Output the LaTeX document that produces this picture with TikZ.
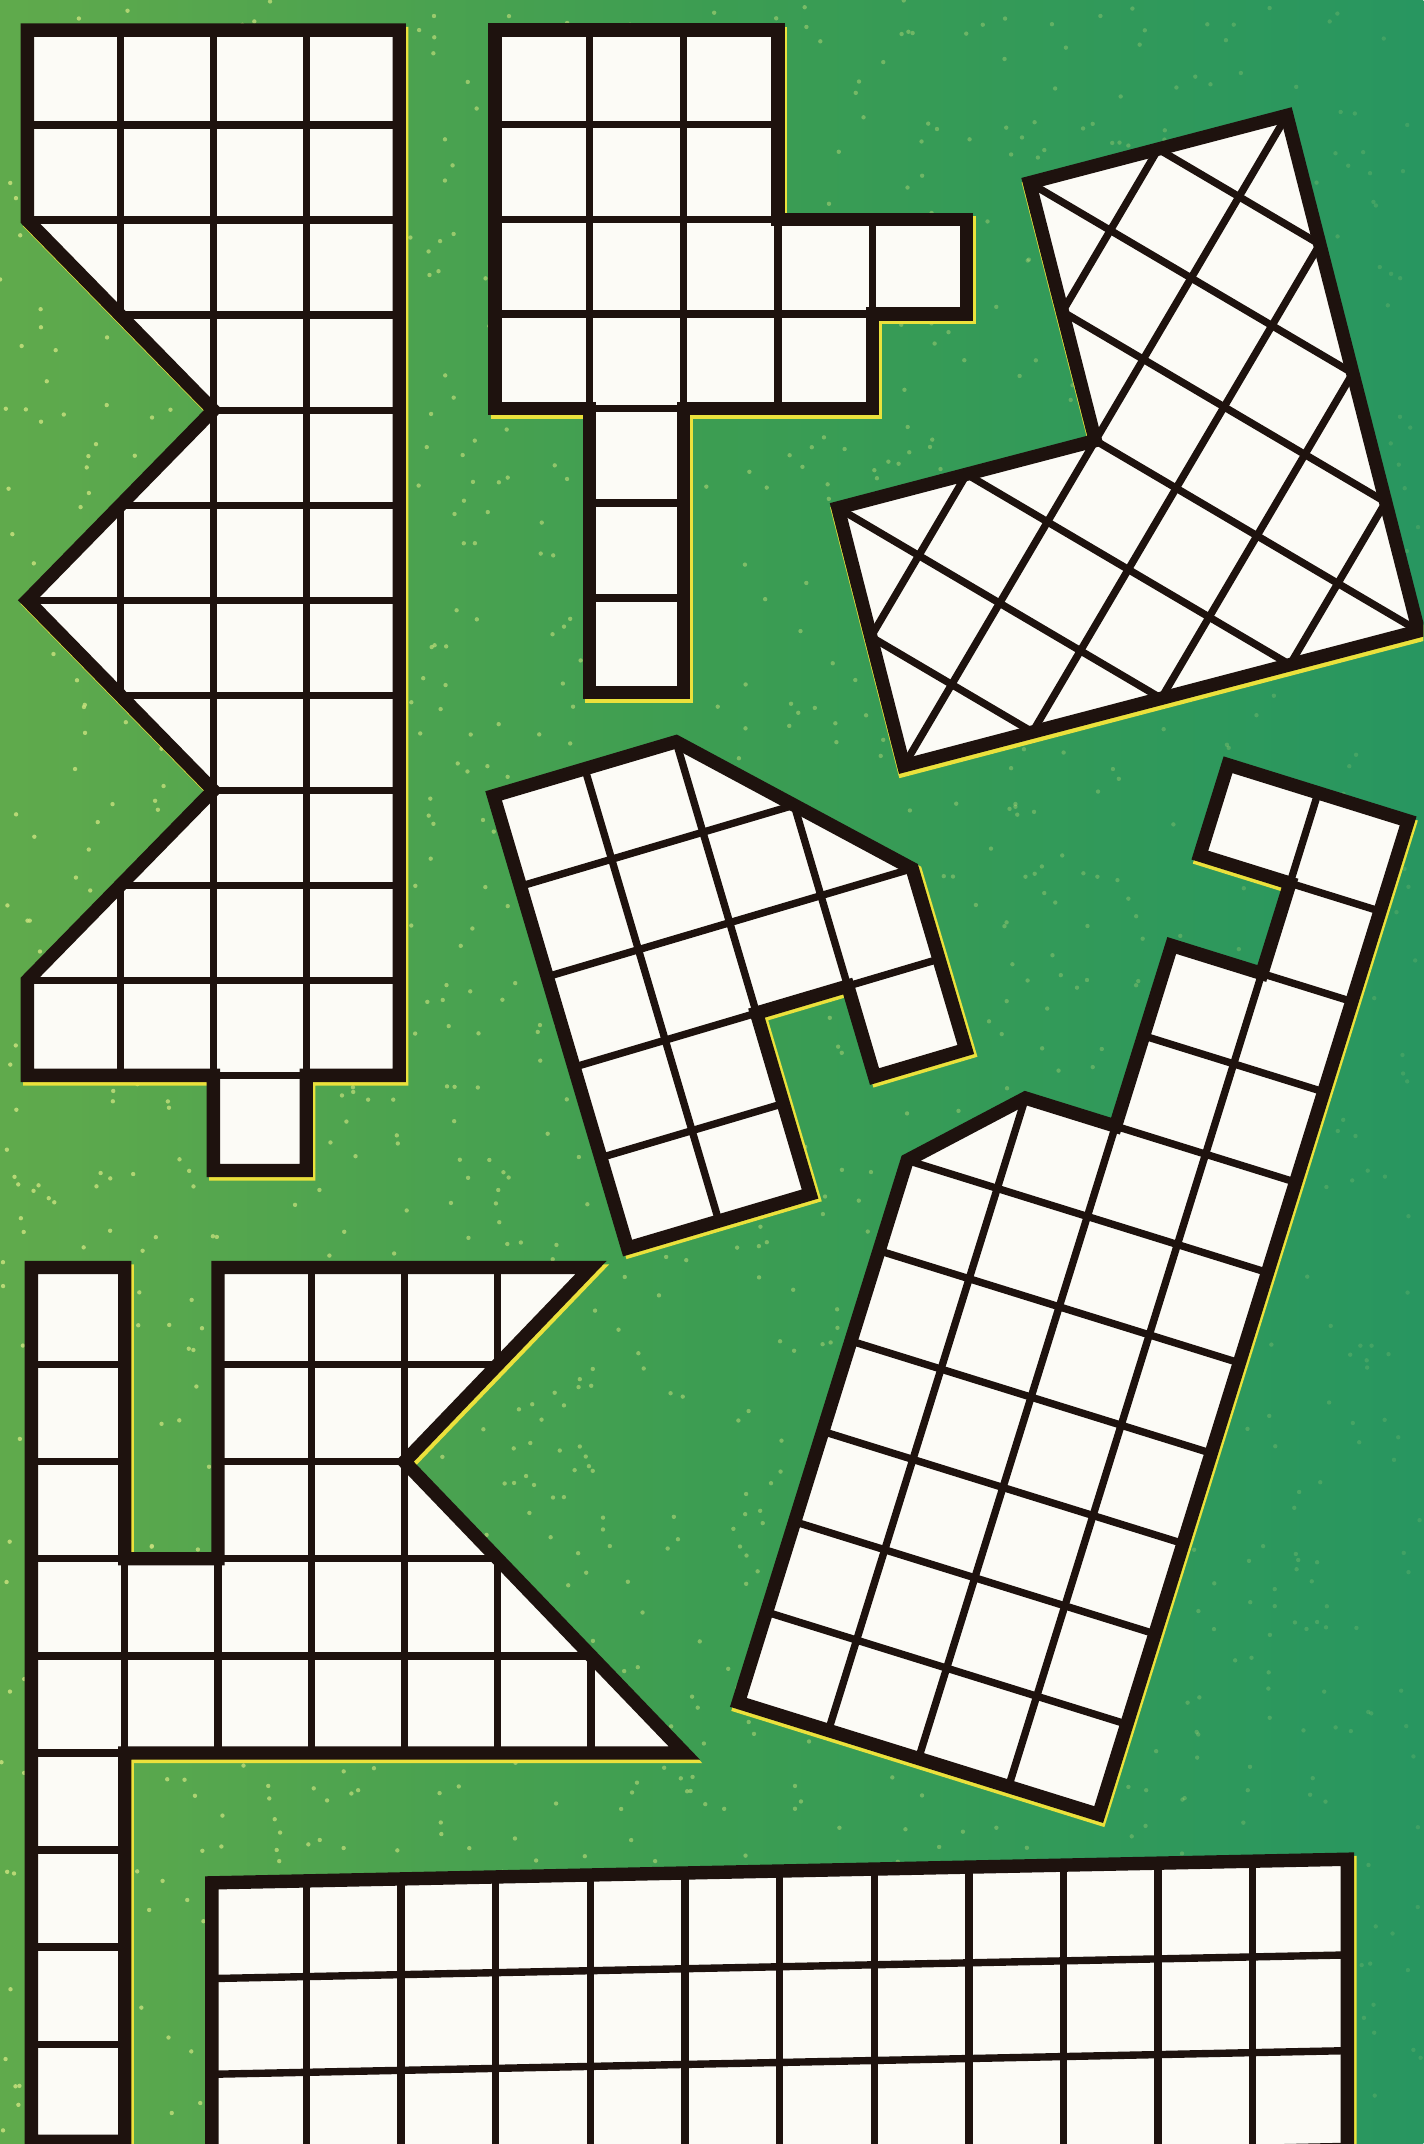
\documentclass[tikz,border=0pt]{standalone}
\definecolor{ink}{RGB}{30,18,14}
\definecolor{paper}{RGB}{252,251,246}
\definecolor{grassL}{RGB}{96,170,76}
\definecolor{grassM}{RGB}{60,157,82}
\definecolor{grassR}{RGB}{40,150,96}
\definecolor{speckc}{RGB}{200,225,125}
\definecolor{glow}{RGB}{235,225,60}
\tikzset{
  outline/.style={draw=ink, line width=4.9pt, line join=miter},
  gridl/.style={draw=ink, line width=2.7pt},
  glowline/.style={draw=glow, line width=4.9pt, line join=miter},
}
% #1 polygon, #2..#3 column range, #4..#5 row range
\newcommand{\gridpoly}[5]{%
  \begin{scope}[shift={(0.9pt,-1.3pt)}]
    \draw[glowline] #1 -- cycle;
  \end{scope}
  \fill[paper] #1 -- cycle;
  \begin{scope}
    \clip #1 -- cycle;
    \foreach \i in {#2,...,#3} \draw[gridl] (\i,#4) -- (\i,#5);
    \foreach \j in {#4,...,#5} \draw[gridl] (#2,\j) -- (#3,\j);
  \end{scope}
  \draw[outline] #1 -- cycle;
}
\begin{document}
\begin{tikzpicture}[x=0.5pt,y=-0.5pt]
\useasboundingbox (0,0) rectangle (1041,1568);
\clip (0,0) rectangle (1041,1568);
\shade[left color=grassL, right color=grassR, middle color=grassM] (0,0) rectangle (1041,1568);
\pgfmathsetseed{7}
\foreach \k in {1,...,1800}{%
  \pgfmathsetmacro\px{rnd*1041}%
  \pgfmathsetmacro\py{rnd*1568}%
  \pgfmathsetmacro\op{0.85*(1-\px/1250)}%
  \fill[speckc, opacity=\op] (\px,\py) circle (1.6);
}

% Piece A (top left, zigzag)
\begin{scope}[shift={(20,22)}, x=34pt, y=-34.75pt]
  \gridpoly{(0,0) -- (4,0) -- (4,11) -- (3,11) -- (3,12) -- (2,12) -- (2,11) -- (0,11) -- (0,10) -- (2,8) -- (0,6) -- (2,4) -- (0,2)}{0}{4}{0}{12}
\end{scope}

% Piece B (top middle)
\begin{scope}[shift={(362,22)}, x=34.5pt, y=-34.6pt]
  \gridpoly{(0,0) -- (3,0) -- (3,2) -- (5,2) -- (5,3) -- (4,3) -- (4,4) -- (2,4) -- (2,7) -- (1,7) -- (1,4) -- (0,4)}{0}{5}{0}{7}
\end{scope}

% Piece C (top right, diagonal grid)
\begin{scope}[shift={(661,560)}, rotate=-30.5, x=34.3pt, y=-34.5pt]
  \gridpoly{(0,0) -- (4,-4) -- (0,-8) -- (-2,-6) -- (0,-4) -- (-2,-2)}{-2}{4}{-8}{0}
\end{scope}

% Piece D (middle)
\begin{scope}[shift={(361,582)}, rotate=16.5, x=34.8pt, y=-34.5pt]
  \gridpoly{(0,0) -- (2,0) -- (4,2) -- (4,4) -- (3,4) -- (3,3) -- (2,3) -- (2,5) -- (0,5)}{0}{4}{0}{5}
\end{scope}

% Piece E (right, tall)
\begin{scope}[shift={(540,1245)}, rotate=-17.3, x=34.5pt, y=34.6pt]
  \gridpoly{(0,0) -- (4,0) -- (4,11) -- (2,11) -- (2,10) -- (3,10) -- (3,9) -- (2,9) -- (2,7) -- (1,7) -- (0,6)}{0}{4}{0}{11}
\end{scope}

% Piece F (strip with K)
\begin{scope}[shift={(23,927)}, x=34.1pt, y=-35.5pt]
  \gridpoly{(0,0) -- (1,0) -- (1,3) -- (2,3) -- (2,0) -- (6,0) -- (4,2) -- (7,5) -- (1,5) -- (1,9) -- (0,9)}{0}{7}{0}{9}
\end{scope}

% Piece G (bottom rectangle, top edge rising to the right)
\begin{scope}[shift={(155,1377)}, x={(34.6pt,0.72pt)}, y={(0pt,-35pt)}]
  \gridpoly{(0,0) -- (12,0) -- (12,5) -- (0,5)}{0}{12}{0}{5}
\end{scope}
\end{tikzpicture}
\end{document}
